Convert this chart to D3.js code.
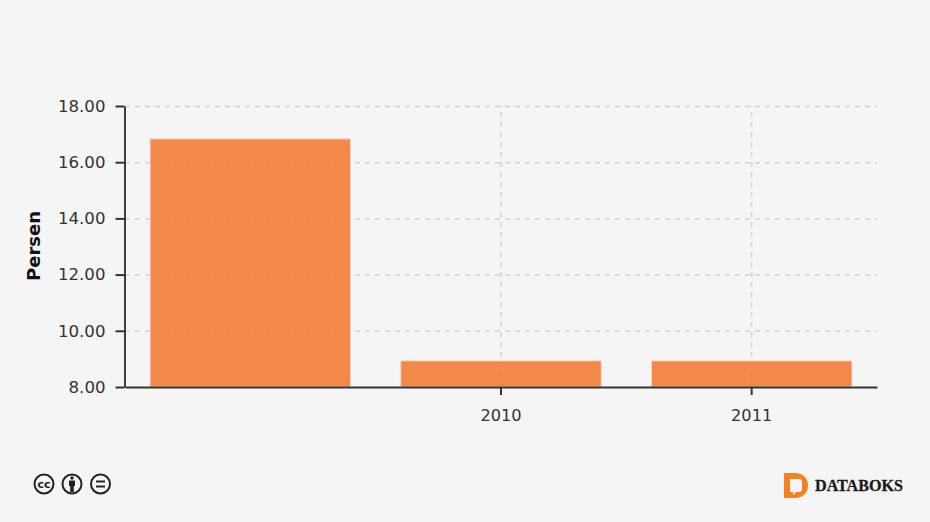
<!DOCTYPE html>
<html>
<head>
<meta charset="utf-8">
<script src="https://cdn.jsdelivr.net/npm/d3@7"></script>
<style>
  html, body { margin: 0; padding: 0; background: #f5f5f5; }
  svg { display: block; font-family: "DejaVu Sans", sans-serif; }
  .grid line { stroke: #d2d2d2; stroke-width: 1.5; stroke-dasharray: 5 5; }
  .grid path { display: none; }
  .axis path, .axis line { stroke: #333; stroke-width: 2; }
  .y-axis path { stroke: #111; stroke-width: 1.6; }
  .axis text { fill: #333; font-family: "DejaVu Sans", sans-serif; }
  .y-axis text { font-size: 16.6px; }
  .x-axis text { font-size: 16.2px; }
</style>
</head>
<body>
<div id="chart"></div>
<script>
const w = 930
const h = 522

// first category has no label in the picture
const categories = ['', '2010', '2011']
const values = [16.83, 8.93, 8.93]
const yTicks = [8, 10, 12, 14, 16, 18]

const x = d3.scaleBand().domain(categories).range([125, 877]).paddingInner(0.2).paddingOuter(0.1)
const y = d3.scaleLinear().domain([8, 18]).range([387, 106])

const svg = d3.select('#chart').append('svg')
  .attr('width', w)
  .attr('height', h)

// grid
svg.append('g')
  .attr('class', 'grid')
  .attr('transform', 'translate(125, 0)')
  .call(d3.axisLeft(y).tickValues(yTicks.slice(1)).tickSize(-752).tickFormat(''))

svg.append('g')
  .attr('class', 'grid')
  .attr('transform', 'translate(0, 387)')
  .call(d3.axisBottom(x).tickValues(categories.slice(1)).tickSize(-281).tickFormat(''))

// bars
svg.selectAll('.bar')
  .data(values)
  .enter().append('rect')
  .attr('class', 'bar')
  .attr('x', (d, i) => x(categories[i]))
  .attr('width', x.bandwidth())
  .attr('y', d => y(d))
  .attr('height', d => y(8) - y(d))
  .attr('fill', '#f2752a')
  .attr('fill-opacity', 0.85)
  .attr('stroke', '#fbd9c4')
  .attr('stroke-width', 1)

// axes
svg.append('g')
  .attr('class', 'axis y-axis')
  .attr('transform', 'translate(124.5, 0)')
  .call(d3.axisLeft(y).tickValues(yTicks).tickSize(9).tickSizeOuter(0).tickPadding(10).tickFormat(d3.format('.2f')))

svg.append('g')
  .attr('class', 'axis x-axis')
  .attr('transform', 'translate(0, 387)')
  .call(d3.axisBottom(x).tickValues(categories.slice(1)).tickSize(8).tickSizeOuter(0).tickPadding(14))

svg.append('text')
  .attr('transform', 'translate(40, 246) rotate(-90)')
  .attr('text-anchor', 'middle')
  .attr('font-size', 18)
  .attr('font-weight', 'bold')
  .attr('fill', '#111')
  .text('Persen')

// cc icons
const cc = svg.append('g').attr('fill', 'none').attr('stroke', '#222')
const iconX = [44, 72, 100.5]
iconX.forEach(cx => {
  cc.append('circle').attr('cx', cx).attr('cy', 484).attr('r', 9.5).attr('stroke-width', 2)
})
cc.append('text')
  .attr('x', 44).attr('y', 488)
  .attr('text-anchor', 'middle')
  .attr('font-size', 11)
  .attr('font-weight', 'bold')
  .attr('fill', '#222')
  .attr('stroke', 'none')
  .text('cc')
cc.append('circle').attr('cx', 72).attr('cy', 478).attr('r', 1.7).attr('fill', '#222').attr('stroke', 'none')
cc.append('path')
  .attr('d', 'M69 480.5h6v5.5h-1.2v6h-3.6v-6H69z')
  .attr('fill', '#222')
  .attr('stroke', 'none')
cc.append('path')
  .attr('d', 'M96 481.5h9M96 486.5h9')
  .attr('stroke-width', 2.2)

// logo
svg.append('path')
  .attr('d', 'M784 473h11c8 0 13 5 13 12.5s-5 12.5-13 12.5h-11z')
  .attr('fill', '#f58220')
svg.append('path')
  .attr('d', 'M790 479h9c2 0 3 1 3 3v7c0 2-1 3-3 3h-3l-3 3v-3h-3z')
  .attr('fill', '#f5f5f5')
svg.append('text')
  .attr('x', 815)
  .attr('y', 491)
  .attr('font-family', '"Liberation Serif", serif')
  .attr('font-weight', 'bold')
  .attr('font-size', 16)
  .attr('textLength', 88)
  .attr('lengthAdjust', 'spacingAndGlyphs')
  .attr('fill', '#1a1a1a')
  .attr('stroke', '#1a1a1a')
  .attr('stroke-width', 0.3)
  .text('DATABOKS')
</script>
</body>
</html>
